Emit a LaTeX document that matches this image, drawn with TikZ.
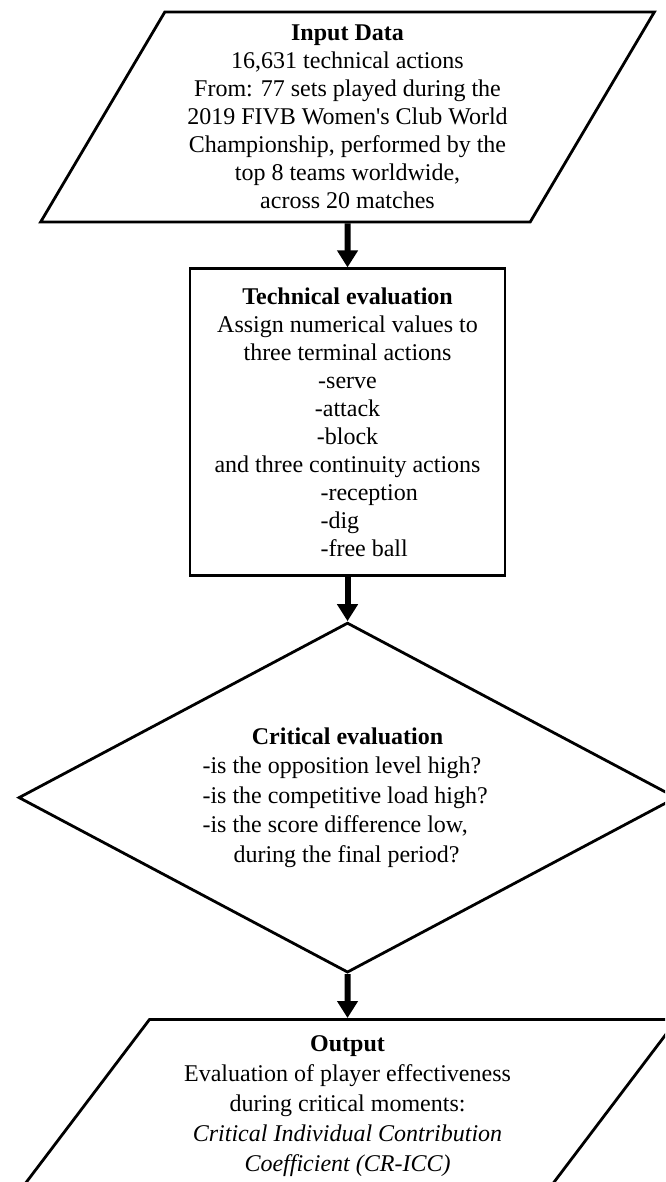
\documentclass[tikz,border=0pt]{standalone}
\usepackage{fontspec}
\setmainfont{Liberation Serif}[Ligatures=TeXOff]
\usetikzlibrary{positioning,shapes.geometric,arrows.meta}

\begin{document}
\begin{tikzpicture}[x=0.5pt,y=-0.5pt,node distance=22pt,
                    every node/.style={font=\fontsize{12}{14}\selectfont,align=center},
                    io node/.style={trapezium,draw,line width=1.4pt,trapezium stretches=true,inner sep=1pt},
                    box node/.style={rectangle,draw,line width=1.4pt,inner sep=1pt},
                    test node/.style={diamond,draw,line width=1.4pt,inner sep=0pt,aspect=1.88},
                    flow/.style={line width=3pt,-{Triangle[length=8.5pt,width=10pt]}}]
  \useasboundingbox (0,0) rectangle (665,1182);
  \clip (0,0) rectangle (665,1182);
  %input%
  \node[io node,minimum width=307.5pt,minimum height=105pt,
        trapezium left angle=59.6,trapezium right angle=120.4] (input) at (347.5,117)
    {\textbf{Input Data}\\16,631 technical actions\\From: 77 sets played during the\\
     2019 FIVB Women's Club World\\Championship, performed by the\\
     top 8 teams worldwide,\\across 20 matches};
  %technical%
  \node[box node,minimum width=157.5pt,minimum height=153.5pt] (tech) [below=of input]
    {\textbf{Technical evaluation}\\Assign numerical values to\\three terminal actions\\
     -serve\\-attack\\-block\\and three continuity actions\\
     \makebox[27pt][l]{-reception}\\\makebox[27pt][l]{-dig}\\\makebox[27pt][l]{-free ball}};
  %critical%
  \node[test node,minimum width=329pt,minimum height=175pt,
        font=\fontsize{12}{14.8}\selectfont] (crit) [below=of tech]
    {\textbf{Critical evaluation}\\
     \makebox[145pt][l]{-is the opposition level high?}\\
     \makebox[145pt][l]{-is the competitive load high?}\\
     \makebox[145pt][l]{-is the score difference low,}\\
     \makebox[145pt][l]{\hspace{15.5pt}during the final period?}};
  %output%
  \node[io node,minimum width=331pt,minimum height=87pt,
        trapezium left angle=52.8,trapezium right angle=127.2,
        font=\fontsize{12}{15}\selectfont] (out) [below=of crit]
    {\textbf{Output}\\Evaluation of player effectiveness\\during critical moments:\\
     \textit{Critical Individual Contribution}\\\textit{Coefficient (CR-ICC)}};

  \path[flow]
    (input) edge (tech)
    (tech) edge (crit)
    (crit) edge (out);
\end{tikzpicture}
\end{document}
